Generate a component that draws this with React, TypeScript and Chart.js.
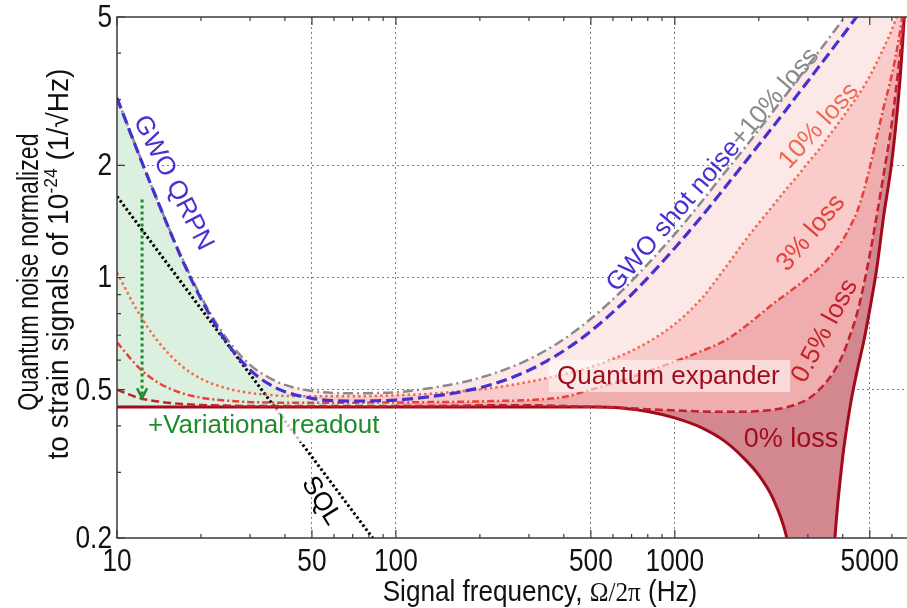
import React, { useEffect, useRef } from 'react';
import { Chart, registerables } from 'chart.js';

Chart.register(...registerables);

// ---------------- data ----------------
const FREQ = [10, 12, 14, 17, 20, 25, 30, 35, 40, 50, 60, 70, 85, 100, 130, 170, 220, 300, 400, 500, 650, 800, 1000, 1250, 1500, 1750, 2000, 2250, 2500, 2750, 3000, 3250, 3500, 3750, 4000, 4250, 4500, 4750, 5000, 5300, 5600, 6000, 6400, 6800];

// GWO shot noise + QRPN (blue dashed)
const GWO_TOTAL = [3.03, 2.13, 1.6, 1.13, 0.877, 0.662, 0.565, 0.518, 0.494, 0.474, 0.467, 0.466, 0.467, 0.469, 0.478, 0.493, 0.516, 0.564, 0.636, 0.718, 0.853, 0.998, 1.2, 1.46, 1.73, 2.0, 2.27, 2.54, 2.81, 3.09, 3.36, 3.64, 3.91, 4.19, 4.46, 4.74, 5.02, 5.29, 5.57, 5.9, 6.23, 6.67, 7.12, 7.56];
// GWO shot noise + 10% loss (grey dash-dot)
const GWO_PLUS_10 = [3.04, 2.14, 1.6, 1.14, 0.889, 0.678, 0.583, 0.539, 0.515, 0.496, 0.49, 0.489, 0.49, 0.492, 0.504, 0.522, 0.55, 0.603, 0.683, 0.775, 0.925, 1.087, 1.307, 1.6, 1.9, 2.19, 2.49, 2.79, 3.09, 3.39, 3.7, 4.0, 4.3, 4.61, 4.91, 5.21, 5.52, 5.82, 6.13, 6.5, 6.85, 7.3, 7.8, 8.3];
// quantum expander / variational readout with losses
const LOSS_10 = [1.03, 0.8, 0.675, 0.58, 0.535, 0.503, 0.49, 0.484, 0.481, 0.48, 0.48, 0.48, 0.481, 0.483, 0.487, 0.495, 0.505, 0.525, 0.55, 0.575, 0.62, 0.67, 0.75, 0.88, 1.05, 1.23, 1.4, 1.56, 1.72, 1.87, 2.03, 2.18, 2.35, 2.52, 2.69, 2.87, 3.05, 3.25, 3.47, 3.78, 4.12, 4.62, 5.3, 6.2];
const LOSS_3 = [0.67, 0.572, 0.523, 0.49, 0.476, 0.467, 0.463, 0.462, 0.461, 0.461, 0.461, 0.461, 0.462, 0.462, 0.463, 0.464, 0.466, 0.469, 0.478, 0.5, 0.53, 0.56, 0.595, 0.635, 0.675, 0.73, 0.79, 0.85, 0.9, 0.95, 1.0, 1.05, 1.11, 1.18, 1.26, 1.37, 1.5, 1.7, 1.97, 2.38, 2.85, 3.5, 4.5, 6.2];
const LOSS_05 = [0.5, 0.475, 0.465, 0.458, 0.455, 0.453, 0.452, 0.452, 0.452, 0.452, 0.452, 0.452, 0.452, 0.452, 0.452, 0.453, 0.454, 0.454, 0.452, 0.45, 0.447, 0.443, 0.44, 0.437, 0.436, 0.436, 0.438, 0.442, 0.448, 0.458, 0.472, 0.495, 0.525, 0.565, 0.62, 0.7, 0.8, 0.95, 1.15, 1.47, 1.88, 2.6, 3.9, 6.0];
const LOSS_0 = [0.449, 0.449, 0.449, 0.449, 0.449, 0.449, 0.449, 0.449, 0.449, 0.449, 0.449, 0.449, 0.449, 0.449, 0.449, 0.449, 0.449, 0.449, 0.449, 0.449, 0.446, 0.437, 0.42, 0.395, 0.365, 0.33, 0.295, 0.255, 0.205, 0.14, 0.08, 0.05, 0.08, 0.2, 0.33, 0.45, 0.56, 0.67, 0.82, 1.06, 1.45, 2.05, 3.3, 6.5];

// variational-readout region (green), bounded by the GWO curve and the lossless floor
const VR_FREQ = [10, 12, 14, 17, 20, 25, 30, 35, 40, 50, 60, 70, 85, 100];
const VR_TOP = [3.03, 2.13, 1.6, 1.13, 0.877, 0.662, 0.565, 0.518, 0.494, 0.474, 0.467, 0.466, 0.467, 0.469];
const VR_FLOOR = 0.449;

// standard quantum limit
const SQL_FREQ = [10, 100];
const SQL_VALUES = [1.65, 0.165];

// green arrow
const ARROW_FREQ = [12.3, 12.3];
const ARROW_VALUES = [1.62, 0.48];

// axes
const X_TICKS = [10, 20, 30, 40, 50, 60, 70, 80, 90, 100, 200, 300, 400, 500, 600, 700, 800, 900, 1000, 2000, 3000, 4000, 5000, 6000];
const X_LABELS = [10, 50, 100, 500, 1000, 5000];
const X_GRID = [50, 100, 500, 1000, 5000];
const Y_TICKS = [0.2, 0.3, 0.4, 0.5, 0.6, 0.7, 0.8, 0.9, 1, 2, 3, 4, 5];
const Y_LABELS = [0.2, 0.5, 1, 2, 5];
const Y_GRID = [0.5, 1, 2];

// ---------------- styling ----------------
const SANS = "'Liberation Sans', Arial, sans-serif";
const SERIF = "'Liberation Serif', 'DejaVu Serif', serif";
const BLUE = '#4630d2';
const GREY = '#8a8a8a';
const C10 = '#f26a4f';
const C3 = '#e8413a';
const C05 = '#c41f2b';
const C0 = '#a10c1c';
const GREEN = '#1e8c2a';
const INK = '#111';

const pts = (xs: number[], ys: number[]) => xs.map((x, i) => ({ x, y: ys[i] }));

function rotText(ctx: CanvasRenderingContext2D, segs: { t: string; c: string }[], cx: number, cy: number, deg: number, font: string) {
  ctx.save();
  ctx.translate(cx, cy);
  ctx.rotate((deg * Math.PI) / 180);
  ctx.font = font;
  ctx.textBaseline = 'middle';
  ctx.textAlign = 'left';
  const w = segs.map((s) => ctx.measureText(s.t).width);
  let x = -w.reduce((a, b) => a + b, 0) / 2;
  segs.forEach((s, i) => {
    ctx.fillStyle = s.c;
    ctx.fillText(s.t, x, 0);
    x += w[i];
  });
  ctx.restore();
}

// condensed text: horizontal squeeze of a regular face
function narrowText(ctx: CanvasRenderingContext2D, t: string, x: number, y: number, align: CanvasTextAlign, base: CanvasTextBaseline, font: string, sx: number) {
  ctx.save();
  ctx.translate(x, y);
  ctx.scale(sx, 1);
  ctx.font = font;
  ctx.textAlign = align;
  ctx.textBaseline = base;
  ctx.fillText(t, 0, 0);
  ctx.restore();
}

const decor = {
  id: 'decor',
  afterDatasetsDraw(chart: any) {
    const { ctx, chartArea: a, scales } = chart;
    const xs = scales.x;
    const ys = scales.y;
    ctx.save();

    // arrow head
    const ax = xs.getPixelForValue(ARROW_FREQ[1]);
    const ay = ys.getPixelForValue(ARROW_VALUES[1]) + 2;
    ctx.strokeStyle = GREEN;
    ctx.lineWidth = 2.5;
    ctx.beginPath();
    ctx.moveTo(ax - 5, ay - 10);
    ctx.lineTo(ax, ay);
    ctx.lineTo(ax + 5, ay - 10);
    ctx.stroke();

    // label boxes
    ctx.fillStyle = 'rgba(255,255,255,0.75)';
    ctx.fillRect(143, 409, 245, 33);
    ctx.fillStyle = 'rgba(255,255,255,0.55)';
    ctx.fillRect(549, 360, 241, 32);

    // labels
    const F = `26px ${SANS}`;
    rotText(ctx, [{ t: 'GWO QRPN', c: BLUE }], 173, 183, 63, F);
    rotText(ctx, [{ t: 'SQL', c: '#000' }], 321, 501, 58, F);
    rotText(ctx, [{ t: 'GWO shot noise', c: BLUE }, { t: '+10% loss', c: GREY }], 713, 170, -49.5, F);
    rotText(ctx, [{ t: '10% loss', c: C10 }], 819, 126, -48, F);
    rotText(ctx, [{ t: '3% loss', c: C3 }], 811, 233, -50, F);
    rotText(ctx, [{ t: '0.5% loss', c: C05 }], 825, 331, -62, F);
    rotText(ctx, [{ t: '0% loss', c: C0 }], 791, 440, 0, `27px ${SANS}`);
    ctx.font = F;
    ctx.textBaseline = 'middle';
    ctx.textAlign = 'left';
    ctx.fillStyle = C0;
    ctx.fillText('Quantum expander', 557, 377);
    ctx.fillStyle = GREEN;
    ctx.fillText('+Variational readout', 148, 426);

    // frame
    ctx.strokeStyle = '#3a3a3a';
    ctx.lineWidth = 1.5;
    ctx.beginPath();
    ctx.moveTo(a.right, a.top);
    ctx.lineTo(a.left, a.top);
    ctx.lineTo(a.left, a.bottom);
    ctx.lineTo(a.right, a.bottom);
    ctx.stroke();

    // inward tick marks
    ctx.lineWidth = 1.2;
    ctx.beginPath();
    X_TICKS.forEach((v) => {
      const px = xs.getPixelForValue(v);
      const len = X_LABELS.includes(v) ? 8 : 4;
      ctx.moveTo(px, a.bottom);
      ctx.lineTo(px, a.bottom - len);
      ctx.moveTo(px, a.top);
      ctx.lineTo(px, a.top + len);
    });
    Y_TICKS.forEach((v) => {
      const py = ys.getPixelForValue(v);
      const len = Y_LABELS.includes(v) ? 8 : 4;
      ctx.moveTo(a.left, py);
      ctx.lineTo(a.left + len, py);
    });
    ctx.stroke();

    // tick labels (condensed face, positioned by the scales)
    ctx.fillStyle = INK;
    const TF = `32px ${SANS}`;
    X_LABELS.forEach((v) => {
      narrowText(ctx, String(v), xs.getPixelForValue(v), a.bottom + 8, 'center', 'top', TF, 0.82);
    });
    Y_LABELS.forEach((v) => {
      narrowText(ctx, String(v), a.left - 5, ys.getPixelForValue(v) + 1, 'right', 'middle', TF, 0.82);
    });
    ctx.restore();
  },
  afterDraw(chart: any) {
    const { ctx, chartArea: a } = chart;
    ctx.save();
    ctx.fillStyle = INK;
    // x title
    const f1 = `29px ${SANS}`;
    const f2 = `28px ${SERIF}`;
    const sx = 0.9;
    ctx.textBaseline = 'alphabetic';
    ctx.textAlign = 'left';
    const parts = [
      { t: 'Signal frequency, ', f: f1 },
      { t: 'Ω/2π', f: f2 },
      { t: ' (Hz)', f: f1 },
    ];
    const ws = parts.map((p) => {
      ctx.font = p.f;
      return ctx.measureText(p.t).width;
    });
    const total = ws.reduce((s, w) => s + w, 0) * sx;
    ctx.save();
    ctx.translate((a.left + a.right) / 2 + 28 - total / 2, 601);
    ctx.scale(sx, 1);
    let x = 0;
    parts.forEach((p, i) => {
      ctx.font = p.f;
      ctx.fillText(p.t, x, 0);
      x += ws[i];
    });
    ctx.restore();

    // y title (two lines, rotated)
    const drawVert = (segs: { t: string; f: string; dy: number }[], cx: number, cy: number, s: number) => {
      ctx.save();
      ctx.translate(cx, cy);
      ctx.rotate(-Math.PI / 2);
      ctx.scale(s, 1);
      ctx.textBaseline = 'middle';
      const w = segs.map((g) => {
        ctx.font = g.f;
        return ctx.measureText(g.t).width;
      });
      let xx = -w.reduce((p, q) => p + q, 0) / 2;
      segs.forEach((g, i) => {
        ctx.font = g.f;
        ctx.fillText(g.t, xx, g.dy);
        xx += w[i];
      });
      ctx.restore();
    };
    drawVert([{ t: 'Quantum noise normalized', f: f1, dy: 0 }], 30, 272, 0.8);
    drawVert(
      [
        { t: 'to strain signals of 10', f: f1, dy: 0 },
        { t: '-24', f: `18px ${SANS}`, dy: -8 },
        { t: ' (1/√Hz)', f: f1, dy: 0 },
      ],
      60,
      264,
      0.97
    );
    ctx.restore();
  },
};

export default function App() {
  const ref = useRef<HTMLCanvasElement | null>(null);

  useEffect(() => {
    if (!ref.current) return;
    const line = (data: any, color: string, width: number, dash: number[], extra: any = {}) => ({
      data,
      borderColor: color,
      borderWidth: width,
      borderDash: dash,
      pointRadius: 0,
      fill: false,
      ...extra,
    });
    const chart = new Chart(ref.current, {
      type: 'line',
      data: {
        datasets: [
          // 0: green variational-readout region
          line(pts(VR_FREQ, VR_TOP), 'rgba(0,0,0,0)', 0, [], { fill: { value: VR_FLOOR }, backgroundColor: '#dcf0df' }),
          // 1: GWO total
          line(pts(FREQ, GWO_TOTAL), BLUE, 3.2, [11, 5]),
          // 2: +10% loss
          line(pts(FREQ, GWO_PLUS_10), GREY, 2.5, [10, 4, 2, 4], { fill: '+1', backgroundColor: '#fde8e8' }),
          // 3: 10% loss
          line(pts(FREQ, LOSS_10), C10, 2.5, [2.5, 3], { fill: '+1', backgroundColor: '#f9cbca' }),
          // 4: 3% loss
          line(pts(FREQ, LOSS_3), C3, 2.5, [7, 3, 2, 3], { fill: '+1', backgroundColor: '#efadae' }),
          // 5: 0.5% loss
          line(pts(FREQ, LOSS_05), C05, 2.5, [8, 4], { fill: '+1', backgroundColor: '#d3878e' }),
          // 6: 0% loss
          line(pts(FREQ, LOSS_0), C0, 3, []),
          // 7: SQL
          line(pts(SQL_FREQ, SQL_VALUES), '#000', 3, [2.5, 2.5], { cubicInterpolationMode: 'default', tension: 0 }),
          // 8: arrow shaft
          line(pts(ARROW_FREQ, ARROW_VALUES), GREEN, 3, [3, 3], { cubicInterpolationMode: 'default', tension: 0 }),
        ],
      },
      options: {
        animation: false,
        responsive: false,
        maintainAspectRatio: false,
        events: [],
        layout: { padding: { top: 17, right: 0, left: 0, bottom: 0 } },
        elements: { point: { radius: 0 }, line: { cubicInterpolationMode: 'monotone' } },
        plugins: {
          legend: { display: false },
          tooltip: { enabled: false },
          filler: { drawTime: 'beforeDatasetsDraw' },
        },
        scales: {
          x: {
            type: 'logarithmic',
            min: 10,
            max: 6800,
            afterBuildTicks: (s: any) => {
              s.ticks = X_TICKS.map((v) => ({ value: v }));
            },
            afterFit: (s: any) => {
              s.height = 70;
            },
            ticks: { display: false, autoSkip: false, maxRotation: 0, minRotation: 0 },
            grid: {
              drawTicks: false,
              lineWidth: 1,
              color: (c: any) => (c.tick && X_GRID.includes(c.tick.value) ? 'rgba(0,0,0,0.5)' : 'rgba(0,0,0,0)'),
            },
            border: { display: false, dash: [2, 3] },
          },
          y: {
            type: 'logarithmic',
            min: 0.2,
            max: 5,
            afterBuildTicks: (s: any) => {
              s.ticks = Y_TICKS.map((v) => ({ value: v }));
            },
            afterFit: (s: any) => {
              s.width = 117;
            },
            ticks: { display: false, autoSkip: false },
            grid: {
              drawTicks: false,
              lineWidth: 1,
              color: (c: any) => (c.tick && Y_GRID.includes(c.tick.value) ? 'rgba(0,0,0,0.5)' : 'rgba(0,0,0,0)'),
            },
            border: { display: false, dash: [2, 3] },
          },
        },
      } as any,
      plugins: [decor],
    });
    return () => chart.destroy();
  }, []);

  return (
    <div style={{ position: 'fixed', left: 0, top: 0, width: 907, height: 608, background: '#fff' }}>
      <canvas ref={ref} width={907} height={608} style={{ display: 'block', width: 907, height: 608 }} />
    </div>
  );
}
